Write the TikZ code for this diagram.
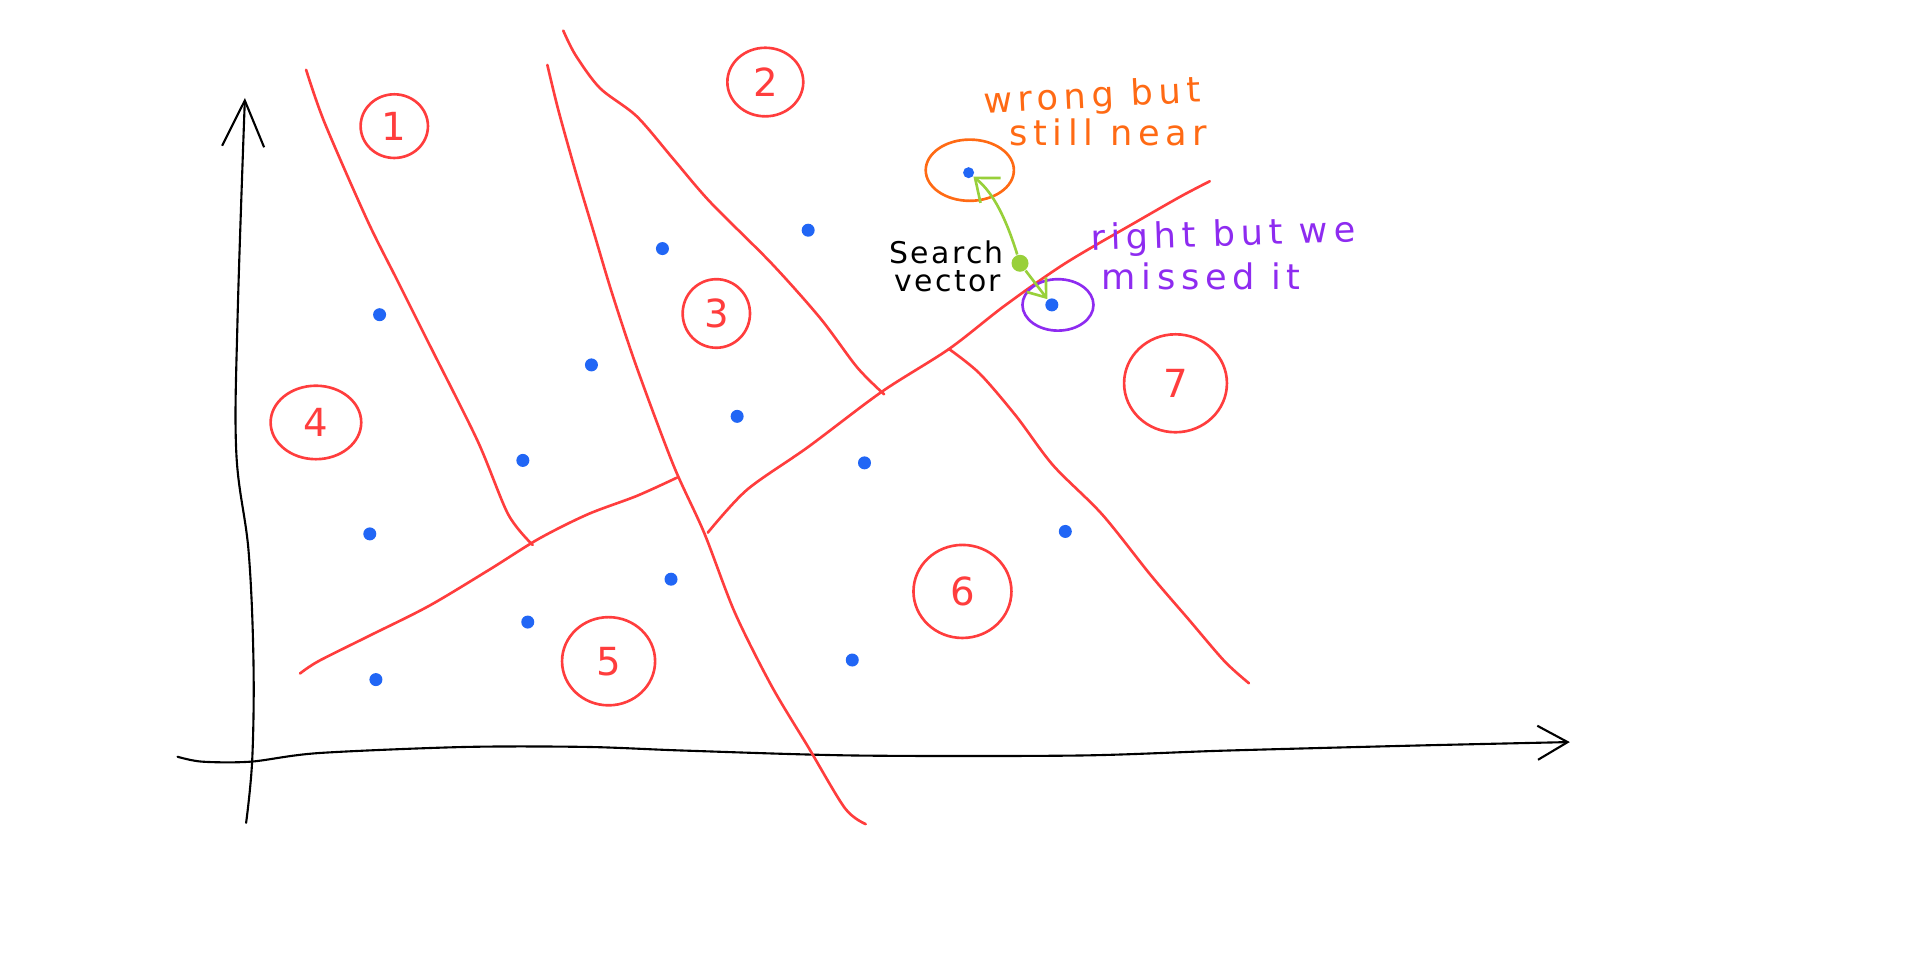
\documentclass[tikz,border=0pt]{standalone}
\usepackage{fontspec}
\setmainfont{DejaVu Sans}
\usetikzlibrary{shapes.geometric,arrows.meta}
\definecolor{zred}{HTML}{FF3D3D}
\definecolor{zblue}{HTML}{2166F5}
\definecolor{zorange}{HTML}{FF6A14}
\definecolor{zpurple}{HTML}{8E2BF0}
\definecolor{zgreen}{HTML}{98D03A}
\tikzset{
  axis/.style={draw=black, line width=0.6pt, line cap=round},
  border/.style={draw=zred, line width=0.75pt, line cap=round},
  zone/.style args={#1/#2}{ellipse, draw=zred, line width=0.75pt, inner sep=0pt,
    text=zred, font=\fontsize{11}{11}\selectfont,
    minimum width=#1*0.012245cm, minimum height=#2*0.012245cm},
  pt/.style={circle, fill=zblue, inner sep=0pt, minimum size=0.13cm},
  note/.style={inner sep=0pt, font=\fontsize{10}{11}\selectfont\addfontfeature{LetterSpace=16}},
  small note/.style={inner sep=0pt, font=\fontsize{8.5}{9}\selectfont\addfontfeature{LetterSpace=8}},
}
\begin{document}
\begin{tikzpicture}[x=0.012245cm, y=-0.012245cm]
\useasboundingbox (0,0) rectangle (1568,785);
% axes
\draw[axis, -{Straight Barb[length=4.6mm,width=4.2mm]}] plot[smooth, tension=0.6] coordinates
  {(201,672) (206,620) (207,540) (203,450) (193,370) (194,260) (200,80)};
\draw[axis, -{Straight Barb[length=3mm,width=3.4mm]}] plot[smooth, tension=0.5] coordinates
  {(145,618) (165,622) (205,622) (260,615) (380,610) (480,610) (560,613) (700,617) (880,617) (1000,613) (1150,609) (1282,606)};
% partition borders
\draw[border] plot[smooth, tension=0.5] coordinates
  {(250,57) (265,100) (300,180) (325,230) (350,280) (390,360) (415,420) (435,445)};
\draw[border] plot[smooth, tension=0.5] coordinates
  {(447,53) (456,90) (470,140) (485,190) (500,240) (520,300) (550,380) (575,435) (600,500) (630,560) (660,610) (690,660) (707,673)};
\draw[border] plot[smooth, tension=0.5] coordinates
  {(460,25) (470,45) (490,72) (520,95) (550,130) (580,165) (630,215) (670,260) (700,300) (722,322)};
\draw[border] plot[smooth, tension=0.5] coordinates
  {(245,550) (260,540) (300,520) (350,495) (400,465) (440,440) (480,420) (520,405) (553,390)};
\draw[border] plot[smooth, tension=0.5] coordinates
  {(578,435) (610,400) (660,365) (720,320) (775,285) (820,250) (870,215) (930,180) (965,160) (988,148)};
\draw[border] plot[smooth, tension=0.5] coordinates
  {(775,285) (800,305) (830,340) (860,380) (900,420) (940,470) (970,505) (1000,540) (1020,558)};
% zone labels
\node[zone=55/52] (z1) at (322,103) {1};
\node[zone=62/56] (z2) at (625,67) {2};
\node[zone=55/56] (z3) at (585,256) {3};
\node[zone=74/60] (z4) at (258,345) {4};
\node[zone=76/72] (z5) at (497,540) {5};
\node[zone=80/76] (z6) at (786,483) {6};
\node[zone=84/80] (z7) at (960,313) {7};
% data points
\node[pt] (p1) at (310,257) {};
\node[pt] (p2) at (427,376) {};
\node[pt] (p3) at (302,436) {};
\node[pt] (p4) at (307,555) {};
\node[pt] (p5) at (431,508) {};
\node[pt] (p6) at (548,473) {};
\node[pt] (p7) at (541,203) {};
\node[pt] (p8) at (483,298) {};
\node[pt] (p9) at (602,340) {};
\node[pt] (p10) at (660,188) {};
\node[pt] (p11) at (706,378) {};
\node[pt] (p12) at (696,539) {};
\node[pt] (p13) at (870,434) {};
\node[pt, minimum size=0.11cm] (near) at (791,141) {};
\node[pt] (right) at (859,249) {};
% highlight rings
\node[ellipse, draw=zorange, line width=0.75pt, minimum width=72*0.012245cm, minimum height=50*0.012245cm] (ring1) at (792,139) {};
\node[ellipse, draw=zpurple, line width=0.75pt, minimum width=58*0.012245cm, minimum height=42*0.012245cm] (ring2) at (864,249) {};
% search vector
\node[circle, fill=zgreen, inner sep=0pt, minimum size=0.17cm] (q) at (833,215) {};
\draw[zgreen, line width=0.75pt, -{Straight Barb[length=2mm,width=3.2mm]}] (q) .. controls (822,180) and (812,158) .. (near);
\draw[zgreen, line width=0.75pt, -{Straight Barb[length=1.6mm,width=2.4mm]}] (q) -- (right);
% annotations
\node[note, text=zorange, rotate=3] (t1) at (892,80) {wrong but};
\node[note, text=zorange] (t2) at (905,108) {still near};
\node[small note, text=black] (t3) at (773,206) {Search};
\node[small note, text=black] (t4) at (774,230) {vector};
\node[note, text=zpurple, rotate=2] (t5) at (999,193) {right but we};
\node[note, text=zpurple] (t6) at (981,226) {missed it};
\end{tikzpicture}
\end{document}
